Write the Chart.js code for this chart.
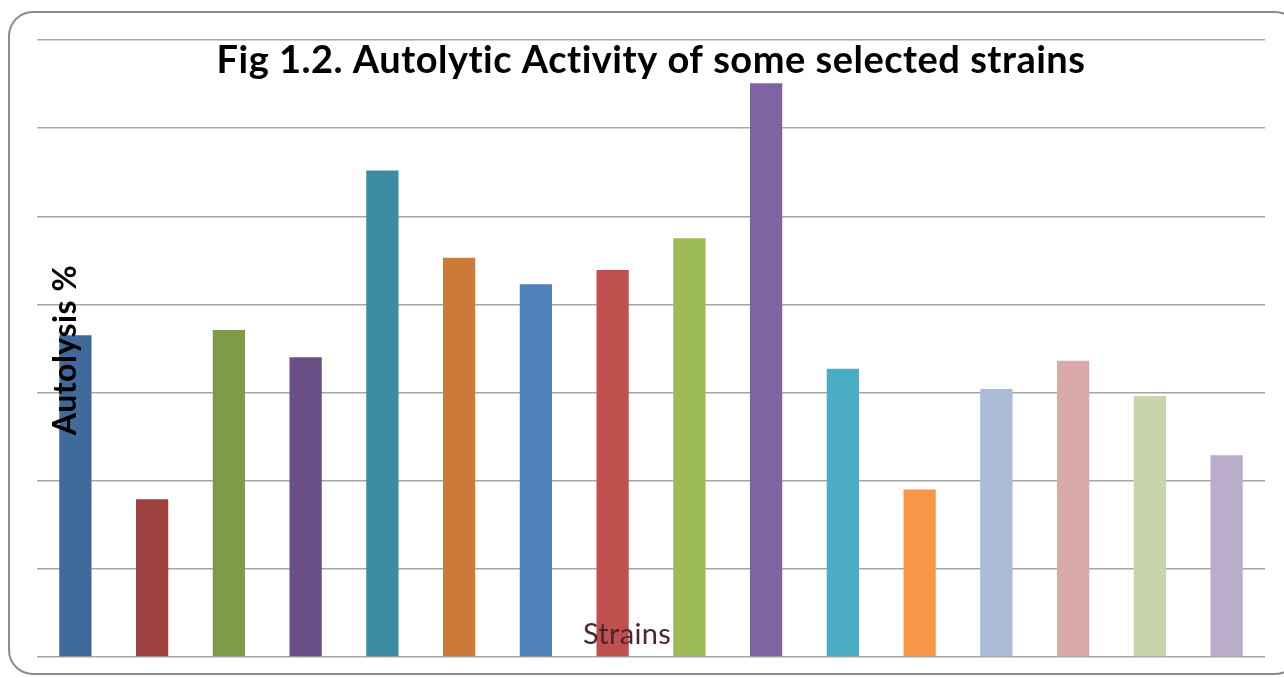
<!DOCTYPE html>
<html>
<head>
<meta charset="utf-8">
<title>Autolytic Activity</title>
<script src="https://cdn.jsdelivr.net/npm/chart.js@4.4.1/dist/chart.umd.min.js"></script>
<style>
  html, body { margin: 0; padding: 0; background: #ffffff; }
  #wrap { position: relative; width: 1284px; height: 678px; }
  canvas { display: block; }
</style>
</head>
<body>
<div id="wrap"><canvas id="chart" width="1284" height="678"></canvas></div>
<script>
// Strain labels (not printed on the axis) and autolysis percentages
const strains = ['S1','S2','S3','S4','S5','S6','S7','S8','S9','S10','S11','S12','S13','S14','S15','S16'];
const autolysis = [36.5, 17.9, 37.1, 34.0, 55.2, 45.3, 42.3, 43.9, 47.5, 65.1, 32.7, 19.0, 30.4, 33.6, 29.6, 22.9];
const barColors = ['#3F6A9A','#9E403E','#7F9A48','#6A4F87','#3C8CA3','#CC7B37','#4F81BD','#C0504D',
                   '#9BBB59','#8064A2','#4BACC6','#F79646','#AABAD7','#D9AAA9','#C6D5AA','#B9ADCA'];
const titleText = 'Fig 1.2. Autolytic Activity of some selected strains';
const yTitleText = 'Autolysis %';
const xTitleText = 'Strains';

// Rounded frame behind the chart, and titles drawn over the bars
const framePlugin = {
  id: 'frame',
  beforeDraw(chart) {
    const ctx = chart.ctx;
    ctx.save();
    ctx.fillStyle = '#ffffff';
    ctx.fillRect(0, 0, chart.width, chart.height);
    const x = 9, y = 12, w = 1290, h = 662, r = 24;
    ctx.beginPath();
    ctx.moveTo(x + r, y);
    ctx.lineTo(x + w - r, y);
    ctx.arcTo(x + w, y, x + w, y + r, r);
    ctx.lineTo(x + w, y + h - r);
    ctx.arcTo(x + w, y + h, x + w - r, y + h, r);
    ctx.lineTo(x + r, y + h);
    ctx.arcTo(x, y + h, x, y + h - r, r);
    ctx.lineTo(x, y + r);
    ctx.arcTo(x, y, x + r, y, r);
    ctx.closePath();
    ctx.lineWidth = 2;
    ctx.strokeStyle = '#8C8C8C';
    ctx.stroke();
    ctx.restore();
  },
  afterDraw(chart) {
    const ctx = chart.ctx;
    ctx.save();
    ctx.textAlign = 'center';
    ctx.textBaseline = 'middle';
    ctx.fillStyle = '#000000';
    ctx.font = 'bold 38px Lato, "Open Sans", sans-serif';
    ctx.letterSpacing = '0.5px';
    ctx.fillText(titleText, 651, 61);

    ctx.save();
    ctx.translate(66, 350);
    ctx.rotate(-Math.PI / 2);
    ctx.font = 'bold 32px Lato, "Open Sans", sans-serif';
    ctx.letterSpacing = '0.5px';
    ctx.fillText(yTitleText, 0, 0);
    ctx.restore();

    ctx.fillStyle = '#4A2633';
    ctx.font = '29px Lato, "Open Sans", sans-serif';
    ctx.letterSpacing = '0.3px';
    ctx.fillText(xTitleText, 627, 635);
    ctx.restore();
  }
};

new Chart(document.getElementById('chart'), {
  type: 'bar',
  data: {
    labels: strains,
    datasets: [{
      data: autolysis,
      backgroundColor: barColors,
      borderWidth: 0,
      barPercentage: 0.42,
      categoryPercentage: 1.0
    }]
  },
  options: {
    responsive: false,
    animation: false,
    layout: { padding: { left: 37, right: 19, top: 40, bottom: 21 } },
    plugins: { legend: { display: false }, tooltip: { enabled: false }, title: { display: false } },
    scales: {
      x: { display: false },
      y: {
        min: 0, max: 70,
        ticks: { display: false, stepSize: 10 },
        border: { display: false },
        grid: { color: '#A6A6A6', lineWidth: 1.5, drawTicks: false }
      }
    }
  },
  plugins: [framePlugin]
});
</script>
</body>
</html>
